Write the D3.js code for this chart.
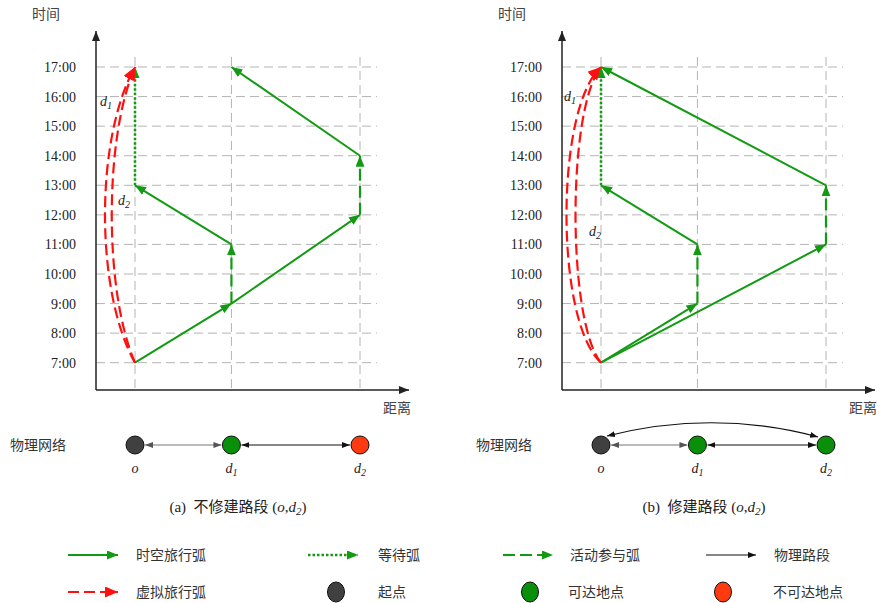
<!DOCTYPE html>
<html>
<head>
<meta charset="utf-8">
<script src="https://cdn.jsdelivr.net/npm/d3@7"></script>
<style>
  body { margin: 0; background: #fff; }
  svg { display: block; }
</style>
</head>
<body>
<svg id="chart" width="877" height="603"></svg>
<script>
// ---- data ----
const timeTicks = [7, 8, 9, 10, 11, 12, 13, 14, 15, 16, 17];
const tickLabels = ["7:00", "8:00", "9:00", "10:00", "11:00", "12:00", "13:00", "14:00", "15:00", "16:00", "17:00"];
const places = ["o", "d1", "d2"];
const placeDistance = [0, 3, 7];

// (a) road segment (o,d2) not built
const travelArcsA = [["o", 7, "d1", 9], ["d1", 11, "o", 13], ["d1", 9, "d2", 12], ["d2", 14, "d1", 17]];
const activityArcsA = [["d1", 9, 11], ["d2", 12, 14]];
const waitArcsA = [["o", 13, 17]];
const virtualArcsA = [["o", 7, 17, "d1"], ["o", 7, 17, "d2"]];
const nodeStatusA = ["origin", "reachable", "unreachable"];
const linksA = [["o", "d1"], ["d1", "d2"]];

// (b) road segment (o,d2) built
const travelArcsB = [["o", 7, "d1", 9], ["d1", 11, "o", 13], ["o", 7, "d2", 11], ["d2", 13, "o", 17]];
const activityArcsB = [["d1", 9, 11], ["d2", 11, 13]];
const waitArcsB = [["o", 13, 17]];
const virtualArcsB = [["o", 7, 17, "d1"], ["o", 7, 17, "d2"]];
const nodeStatusB = ["origin", "reachable", "reachable"];
const linksB = [["o", "d1"], ["d1", "d2"], ["o", "d2"]];

const legendLineItems = [["时空旅行弧", "travel"], ["等待弧", "wait"], ["活动参与弧", "activity"], ["物理路段", "physical"], ["虚拟旅行弧", "virtual"]];
const legendDotItems = [["起点", "origin"], ["可达地点", "reachable"], ["不可达地点", "unreachable"]];

// ---- styles ----
const GREEN = "#129a12";
const RED = "#ff1010";
const FONT = "'Liberation Serif', 'Times New Roman', 'Noto Sans CJK SC', serif";
const CJK = "'Noto Sans CJK SC', sans-serif";
const nodeFill = { origin: "#404040", reachable: "#0a8f0a", unreachable: "#ff3a10" };
const arcStyle = {
  travel:   { stroke: GREEN, dash: null,    width: 2,   marker: "ah-green" },
  wait:     { stroke: GREEN, dash: "2.5,2", width: 2.5, marker: "ah-green" },
  activity: { stroke: GREEN, dash: "12,5",  width: 2.2, marker: "ah-green" },
  virtual:  { stroke: RED,   dash: "11,5",  width: 2.2, marker: "ah-red" },
  physical: { stroke: "#111", dash: null,   width: 1.2, marker: "ah-black" }
};

const svg = d3.select("#chart");
const defs = svg.append("defs");
function addMarker(id, color, len, wid) {
  defs.append("marker")
    .attr("id", id)
    .attr("viewBox", `0 0 ${len} ${wid}`)
    .attr("refX", len).attr("refY", wid / 2)
    .attr("markerWidth", len).attr("markerHeight", wid)
    .attr("markerUnits", "userSpaceOnUse")
    .attr("orient", "auto-start-reverse")
    .append("path")
    .attr("d", `M0,0L${len},${wid / 2}L0,${wid}Z`)
    .attr("fill", color);
}
addMarker("ah-green", GREEN, 11, 9);
addMarker("ah-red", RED, 13, 11);
addMarker("ah-black", "#111", 8, 6);
addMarker("ah-gray", "#555", 8, 6);
addMarker("ah-axis", "#222", 10, 8);

function subLabel(sel, base, sub, size) {
  sel.append("tspan").attr("font-style", "italic").text(base);
  if (sub) sel.append("tspan").attr("font-style", "italic").attr("font-size", size * 0.72).attr("dy", size * 0.22).text(sub);
}
function placeParts(name) { return name.length > 1 ? [name[0], name.slice(1)] : [name, null]; }

function drawPanel(offsetX, cfg) {
  const g = svg.append("g").attr("transform", `translate(${offsetX},0)`);
  const x = d3.scaleLinear().domain([0, 7]).range([135, 360]);
  const y = d3.scaleLinear().domain([7, 17]).range([362.7, 67]);
  const px = name => x(placeDistance[places.indexOf(name)]);
  const axisX = 96, axisY = 390;

  // grid
  g.append("g").selectAll("line").data(timeTicks).join("line")
    .attr("x1", axisX).attr("x2", 377)
    .attr("y1", d => y(d)).attr("y2", d => y(d))
    .attr("stroke", "#b4b4b4").attr("stroke-width", 1).attr("stroke-dasharray", "9,5");
  g.append("g").selectAll("line").data(places).join("line")
    .attr("x1", d => px(d)).attr("x2", d => px(d))
    .attr("y1", 57).attr("y2", axisY)
    .attr("stroke", "#b4b4b4").attr("stroke-width", 1).attr("stroke-dasharray", "9,5");

  // axes
  g.append("line").attr("x1", axisX).attr("y1", axisY).attr("x2", axisX).attr("y2", 31)
    .attr("stroke", "#222").attr("stroke-width", 1.5).attr("marker-end", "url(#ah-axis)");
  g.append("line").attr("x1", axisX).attr("y1", axisY).attr("x2", 409).attr("y2", axisY)
    .attr("stroke", "#222").attr("stroke-width", 1.5).attr("marker-end", "url(#ah-axis)");
  const ya = g.append("g").attr("transform", `translate(${axisX},0)`)
    .call(d3.axisLeft(y).tickValues(timeTicks).tickFormat((d, i) => tickLabels[i]).tickSize(0).tickPadding(20));
  ya.select(".domain").remove();
  ya.selectAll("text").attr("font-family", FONT).attr("font-size", 14).attr("fill", "#222");
  g.append("text").attr("x", 32).attr("y", 19).attr("font-family", CJK).attr("font-size", 14).attr("fill", "#444").text("时间");
  g.append("text").attr("x", 383).attr("y", 413).attr("font-family", CJK).attr("font-size", 14).attr("fill", "#444").text("距离");

  // space-time arcs
  const arcs = g.append("g").attr("fill", "none");
  function styled(sel, kind) {
    const s = arcStyle[kind];
    sel.attr("stroke", s.stroke).attr("stroke-width", s.width)
      .attr("stroke-dasharray", s.dash).attr("marker-end", `url(#${s.marker})`);
  }
  arcs.selectAll(".travel").data(cfg.travel).join("line").attr("class", "travel")
    .attr("x1", d => px(d[0])).attr("y1", d => y(d[1]))
    .attr("x2", d => px(d[2])).attr("y2", d => y(d[3]))
    .call(styled, "travel");
  arcs.selectAll(".activity").data(cfg.activity).join("line").attr("class", "activity")
    .attr("x1", d => px(d[0])).attr("y1", d => y(d[1]))
    .attr("x2", d => px(d[0])).attr("y2", d => y(d[2]))
    .call(styled, "activity");
  arcs.selectAll(".wait").data(cfg.wait).join("line").attr("class", "wait")
    .attr("x1", d => px(d[0])).attr("y1", d => y(d[1]))
    .attr("x2", d => px(d[0])).attr("y2", d => y(d[2]))
    .call(styled, "wait");
  // virtual arcs bow to the left of the origin line
  arcs.selectAll(".virtual").data(cfg.virtual).join("path").attr("class", "virtual")
    .attr("d", (d, i) => {
      const p = d3.path();
      const x0 = px(d[0]), y0 = y(d[1]), y1 = y(d[2]);
      const [b, f] = cfg.bend[i];
      p.moveTo(x0, y0);
      p.bezierCurveTo(x0 - b, y0 - (y0 - y1) * f, x0 - b, y1 + (y0 - y1) * f, x0, y1);
      return p.toString();
    })
    .call(styled, "virtual");
  cfg.arcLabels.forEach((pos, i) => {
    const [b, s] = placeParts(cfg.virtual[i][3]);
    g.append("text").attr("x", pos[0]).attr("y", pos[1]).attr("font-family", FONT).attr("font-size", 14).attr("fill", "#222")
      .call(subLabel, b, s, 14);
  });

  // physical network
  const ny = 445, r = 9;
  g.append("text").attr("x", 10).attr("y", ny + 5).attr("font-family", CJK).attr("font-size", 14).attr("fill", "#333").text("物理网络");
  cfg.links.forEach(([a, b]) => {
    const xa = px(a), xb = px(b);
    const gray = a === "o" && b === "d1";
    if (Math.abs(places.indexOf(a) - places.indexOf(b)) === 1) {
      g.append("line").attr("x1", xa + r + 1).attr("x2", xb - r - 1).attr("y1", ny).attr("y2", ny)
        .attr("stroke", gray ? "#777" : "#111").attr("stroke-width", 1.2)
        .attr("marker-start", `url(#${gray ? "ah-gray" : "ah-black"})`)
        .attr("marker-end", `url(#${gray ? "ah-gray" : "ah-black"})`);
    } else {
      const p = d3.path();
      p.moveTo(xa + 6, ny - 9);
      p.quadraticCurveTo((xa + xb) / 2, ny - 36, xb - 8, ny - 8);
      g.append("path").attr("d", p.toString()).attr("fill", "none")
        .attr("stroke", "#111").attr("stroke-width", 1.2)
        .attr("marker-start", "url(#ah-black)").attr("marker-end", "url(#ah-black)");
    }
  });
  places.forEach((name, i) => {
    g.append("circle").attr("cx", px(name)).attr("cy", ny).attr("r", r)
      .attr("fill", nodeFill[cfg.status[i]]).attr("stroke", "#111").attr("stroke-width", 1);
    const [b, s] = placeParts(name);
    g.append("text").attr("x", px(name)).attr("y", ny + 28).attr("text-anchor", "middle")
      .attr("font-family", FONT).attr("font-size", 14).attr("fill", "#222").call(subLabel, b, s, 14);
  });

  // caption
  const cap = g.append("text").attr("x", 238).attr("y", 512).attr("text-anchor", "middle")
    .attr("font-family", FONT).attr("font-size", 15).attr("fill", "#222").style("white-space", "pre");
  cap.append("tspan").text(cfg.tag + "  " + cfg.caption + " (");
  cap.append("tspan").attr("font-style", "italic").text("o");
  cap.append("tspan").text(",");
  cap.append("tspan").attr("font-style", "italic").text("d");
  cap.append("tspan").attr("font-style", "italic").attr("font-size", 11).attr("dy", 3).text("2");
  cap.append("tspan").attr("dy", -3).text(")");
}

drawPanel(0, {
  travel: travelArcsA, activity: activityArcsA, wait: waitArcsA, virtual: virtualArcsA,
  status: nodeStatusA, links: linksA, tag: "(a)", caption: "不修建路段",
  bend: [[40, 0.24], [31, 0.24]], arcLabels: [[100, 106], [118, 205]]
});
drawPanel(466, {
  travel: travelArcsB, activity: activityArcsB, wait: waitArcsB, virtual: virtualArcsB,
  status: nodeStatusB, links: linksB, tag: "(b)", caption: "修建路段",
  bend: [[46, 0.14], [34, 0.14]], arcLabels: [[98, 101], [123, 236]]
});

// legend
const lg = svg.append("g");
const lineSlots = [[68, 555, 136], [308, 555, 378], [503, 555, 570], [706, 555, 774], [68, 592, 136]];
legendLineItems.forEach(([label, kind], i) => {
  const [lx, ly, tx] = lineSlots[i];
  const s = arcStyle[kind];
  lg.append("line").attr("x1", lx).attr("x2", lx + 50).attr("y1", ly).attr("y2", ly)
    .attr("stroke", s.stroke).attr("stroke-width", s.width).attr("stroke-dasharray", s.dash)
    .attr("marker-end", `url(#${s.marker})`);
  lg.append("text").attr("x", tx).attr("y", ly + 5).attr("font-family", CJK).attr("font-size", 14).attr("fill", "#333").text(label);
});
const dotSlots = [[336, 592, 378], [530, 592, 568], [723, 592, 773]];
legendDotItems.forEach(([label, kind], i) => {
  const [cx, cy, tx] = dotSlots[i];
  lg.append("ellipse").attr("cx", cx).attr("cy", cy).attr("rx", 8.5).attr("ry", 10)
    .attr("fill", nodeFill[kind]).attr("stroke", "#111").attr("stroke-width", 1);
  lg.append("text").attr("x", tx).attr("y", cy + 5).attr("font-family", CJK).attr("font-size", 14).attr("fill", "#333").text(label);
});
</script>
</body>
</html>
